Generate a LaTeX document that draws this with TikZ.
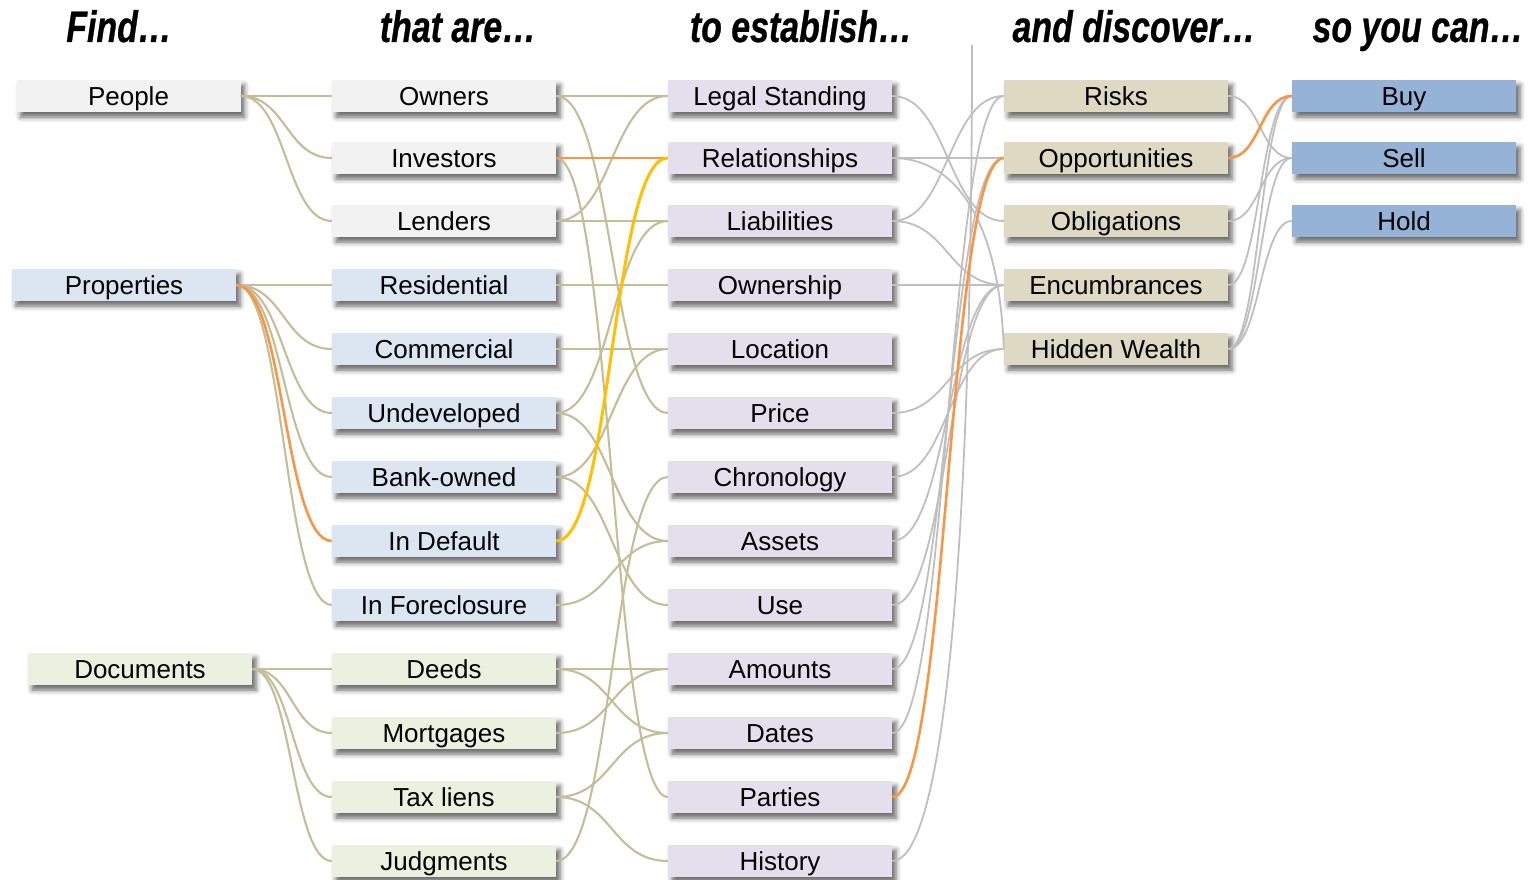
\documentclass[tikz,border=0pt]{standalone}
\usepackage{fontspec}
\setmainfont{Liberation Sans}
\newfontfamily\headfont[FakeStretch=0.77,FakeBold=0.6]{Liberation Sans}
\usetikzlibrary{shadows.blur}
\definecolor{cPeople}{HTML}{F2F2F2}
\definecolor{cProp}{HTML}{DCE6F2}
\definecolor{cDoc}{HTML}{EBF1DE}
\definecolor{cEst}{HTML}{E4DFEC}
\definecolor{cDisc}{HTML}{DDD9C3}
\definecolor{cAct}{HTML}{95B3D7}
\definecolor{cTan}{HTML}{C4BD97}
\definecolor{cGray}{HTML}{BFBFBF}
\definecolor{cOrange}{HTML}{F79646}
\definecolor{cYellow}{HTML}{FFC000}
\begin{document}
\begin{tikzpicture}[x=1pt,y=1pt,
  box/.style={minimum width=224pt,minimum height=32pt,inner sep=0pt,
    text height=18.6pt,text depth=0pt,font=\fontsize{26}{30}\selectfont,
    blur shadow={shadow xshift=4pt,shadow yshift=-5pt,shadow blur radius=5pt,shadow opacity=60}},
  pbox/.style={box,fill=cPeople},
  rbox/.style={box,fill=cProp},
  dbox/.style={box,fill=cDoc},
  ebox/.style={box,fill=cEst},
  xbox/.style={box,fill=cDisc},
  abox/.style={box,fill=cAct},
  head/.style={anchor=base,font=\headfont\bfseries\itshape\fontsize{44}{50}\selectfont},
  tanline/.style={draw=cTan,line width=2.1pt},
  grayline/.style={draw=cGray,line width=1.8pt},
  orangeline/.style={draw=cOrange,line width=2.6pt},
  yellowline/.style={draw=cYellow,line width=3pt},
  gp/.style={out=0,in=180,distance=45.5pt},
  gr/.style={out=0,in=180,distance=48pt},
  gd/.style={out=0,in=180,distance=40pt},
  gm/.style={out=0,in=180,distance=56pt},
  gs/.style={out=0,in=180,distance=32pt}
]
\useasboundingbox (0,0) rectangle (1534,-880);

% headers
\node[head] (h1) at (119,-42) {Find…};
\node[head] (h2) at (458,-42) {that are…};
\node[head] (h3) at (801,-42) {to establish…};
\node[head] (h4) at (1134,-42) {and discover…};
\node[head] (h5) at (1418,-42) {so you can…};

% column 1
\node[pbox] (people) at (128.5,-96) {People};
\node[rbox] (props) at (124,-285) {Properties};
\node[dbox] (docs) at (140,-669) {Documents};

% column 2
\node[pbox] (owners) at (444,-96) {Owners};
\node[pbox] (investors) at (444,-158) {Investors};
\node[pbox] (lenders) at (444,-221) {Lenders};
\node[rbox] (resid) at (444,-285) {Residential};
\node[rbox] (comm) at (444,-349) {Commercial};
\node[rbox] (undev) at (444,-413) {Undeveloped};
\node[rbox] (bank) at (444,-477) {Bank-owned};
\node[rbox] (default) at (444,-541) {In Default};
\node[rbox] (forecl) at (444,-605) {In Foreclosure};
\node[dbox] (deeds) at (444,-669) {Deeds};
\node[dbox] (mortg) at (444,-733) {Mortgages};
\node[dbox] (taxl) at (444,-797) {Tax liens};
\node[dbox] (judg) at (444,-861) {Judgments};

% column 3
\node[ebox] (legal) at (780,-96) {Legal Standing};
\node[ebox] (relat) at (780,-158) {Relationships};
\node[ebox] (liab) at (780,-221) {Liabilities};
\node[ebox] (owner) at (780,-285) {Ownership};
\node[ebox] (loc) at (780,-349) {Location};
\node[ebox] (price) at (780,-413) {Price};
\node[ebox] (chron) at (780,-477) {Chronology};
\node[ebox] (assets) at (780,-541) {Assets};
\node[ebox] (use) at (780,-605) {Use};
\node[ebox] (amts) at (780,-669) {Amounts};
\node[ebox] (dates) at (780,-733) {Dates};
\node[ebox] (parties) at (780,-797) {Parties};
\node[ebox] (hist) at (780,-861) {History};

% column 4
\node[xbox] (risks) at (1116,-96) {Risks};
\node[xbox] (opps) at (1116,-158) {Opportunities};
\node[xbox] (oblig) at (1116,-221) {Obligations};
\node[xbox] (encum) at (1116,-285) {Encumbrances};
\node[xbox] (hidden) at (1116,-349) {Hidden Wealth};

% column 5
\node[abox] (buy) at (1404,-96) {Buy};
\node[abox] (sell) at (1404,-158) {Sell};
\node[abox] (hold) at (1404,-221) {Hold};

\coordinate (topend) at (972,-45);

% column 1 -> 2
\draw[tanline,gp] (people.east) to (owners.west);
\draw[tanline,gp] (people.east) to (investors.west);
\draw[tanline,gp] (people.east) to (lenders.west);
\draw[tanline,gr] (props.east) to (resid.west);
\draw[tanline,gr] (props.east) to (comm.west);
\draw[tanline,gr] (props.east) to (undev.west);
\draw[tanline,gr] (props.east) to (bank.west);
\draw[tanline,gr] (props.east) to (forecl.west);
\draw[orangeline,gr] (props.east) to (default.west);
\draw[tanline,gd] (docs.east) to (deeds.west);
\draw[tanline,gd] (docs.east) to (mortg.west);
\draw[tanline,gd] (docs.east) to (taxl.west);
\draw[tanline,gd] (docs.east) to (judg.west);

% column 2 -> 3
\draw[tanline,gm] (owners.east) to (legal.west);
\draw[tanline,gm] (owners.east) to (price.west);
\draw[tanline,gm] (investors.east) to (parties.west);
\draw[tanline,gm] (lenders.east) to (liab.west);
\draw[tanline,gm] (lenders.east) to (legal.west);
\draw[tanline,gm] (resid.east) to (owner.west);
\draw[tanline,gm] (comm.east) to (loc.west);
\draw[tanline,gm] (undev.east) to (liab.west);
\draw[tanline,gm] (undev.east) to (assets.west);
\draw[tanline,gm] (bank.east) to (loc.west);
\draw[tanline,gm] (bank.east) to (use.west);
\draw[tanline,gm] (forecl.east) to (assets.west);
\draw[tanline,gm] (deeds.east) to (amts.west);
\draw[tanline,gm] (deeds.east) to (dates.west);
\draw[tanline,gm] (mortg.east) to (amts.west);
\draw[tanline,gm] (taxl.east) to (dates.west);
\draw[tanline,gm] (taxl.east) to (hist.west);
\draw[tanline,gm] (judg.east) to (chron.west);
\draw[orangeline,gm] (investors.east) to (relat.west);
\draw[yellowline,gm] (default.east) to (relat.west);

% column 3 -> 4
\draw[grayline,gm] (legal.east) to (oblig.west);
\draw[grayline,gm] (relat.east) to (opps.west);
\draw[grayline] (relat.east) to[out=0,in=92,out distance=68pt,in distance=120pt] (hidden.west);
\draw[grayline,gm] (liab.east) to (risks.west);
\draw[grayline,gm] (liab.east) to (encum.west);
\draw[grayline,gm] (owner.east) to (encum.west);
\draw[grayline,gm] (price.east) to (hidden.west);
\draw[grayline,gm] (chron.east) to (hidden.west);
\draw[grayline,gm] (assets.east) to (encum.west);
\draw[grayline,gm] (use.east) to (encum.west);
\draw[grayline,gm] (amts.east) to (opps.west);
\draw[grayline,gm] (dates.east) to (risks.west);
\draw[grayline] (hist.east) to[out=0,in=-90,out distance=56pt,in distance=455pt] (topend);
\draw[orangeline,gm] (parties.east) to (opps.west);

% column 4 -> 5
\draw[grayline,gs] (risks.east) to (sell.west);
\draw[grayline,gs] (oblig.east) to (sell.west);
\draw[grayline,gs] (encum.east) to (buy.west);
\draw[grayline,gs] (hidden.east) to (buy.west);
\draw[grayline,gs] (hidden.east) to (sell.west);
\draw[grayline,gs] (hidden.east) to (hold.west);
\draw[orangeline,gs] (opps.east) to (buy.west);
\end{tikzpicture}
\end{document}
